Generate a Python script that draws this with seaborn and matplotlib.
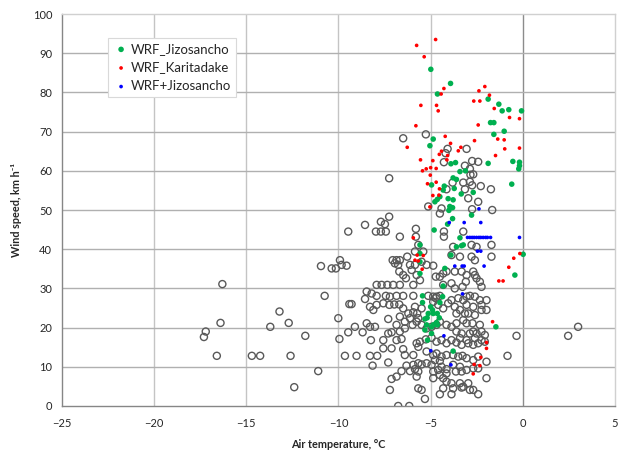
import numpy as np
import pandas as pd
import seaborn as sns
import matplotlib.pyplot as plt

gray_temp = [
    -16.3, -16.4, -17.2, -17.3, -16.6, -14.7, -14.25, -13.7, -13.2, -12.7, -12.6, -12.4, -11.8, -11.1, -10.95, -10.75,
    -6.49, -5.26, -4.08, -4.19, -3.05, -4.28, -2.75, -2.42, -3.14, -2.87, -2.69, -2.84, -3.81, -3.23, -2.87, -2.75,
    -2.28, -3.14, -4.14, -1.73, -2.96, -2.42, -7.25, -4.41, -5.13, -4.50, -2.75, -1.66, -7.25, -7.70, -8.56, -7.48,
    -9.47, -7.97, -7.70, -7.43, -5.80, -6.67, -5.80, -4.28, -4.28, -3.23,
    -5.67, -5.85, -5.40, -3.78, -2.78, -2.51, -1.70, -1.70, -2.78, -2.60, -3.87, -3.41,
    -7.06, -6.85, -6.67, -6.27, -6.12, -5.85, -5.49, -4.86, -5.22, -9.92, -9.83, -9.56, -10.37, -10.14, -6.76, -6.94,
    -6.70, -6.49, -6.34, -6.03, -5.76, -5.58, -4.72, -4.50, -4.32, -4.14, -3.69, -3.32, -3.05, -2.69, -2.60, -2.51,
    -2.33, -2.24, -3.09, -3.27, -3.87, -3.69, -4.32, -7.93, -7.66, -7.35, -7.03, -6.67, -5.94,
    -8.47, -8.20, -7.93, -7.43, -7.21, -6.85, -6.49, -5.94, -5.13, -4.86, -4.68, -4.50,
    -9.41, -9.29, -8.56, -8.29, -8.11, -7.93, -7.57, -7.24, -6.97, -6.70, -6.49, -6.21, -5.94, -5.73, -5.49, -5.85,
    -4.86, -4.72, -4.59, -4.32, -4.05, -3.87, -3.50, -3.23, -3.05, -2.87, -2.60, -2.33, -1.97, -2.24, -2.69, -3.05,
    -3.69, -3.41, -3.14, -2.96, -2.60, -2.24, -1.97, -3.60, -5.67, -6.12, -10.01, -7.30, -6.67, -6.40, -6.85,
    -9.11, -9.47, -8.69, -8.47, -8.29, -8.02, -7.30, -7.12, -6.67, -6.40, -5.98, -5.76, -5.49, -5.22, -4.95, -4.68,
    -4.50, -4.14, -3.87, -3.60, -3.23, -3.05, -2.73, -2.69, -2.33, -2.24, -3.60, -3.32, -2.87, -2.51, -2.06, -3.41,
    -3.05, -2.60, -2.24, -2.06, -0.34, 2.46, 3.00,
    -9.95, -8.24, -7.57, -6.85, -6.58, -5.76, -5.58, -5.26, -4.95, -4.68, -4.41, -4.14, -3.87, -3.60, -3.32, -2.96,
    -2.69, -2.42,
    -9.65, -9.02, -8.29, -7.90, -8.15, -7.30, -7.57, -7.12, -6.49, -6.40, -5.94, -5.67, -5.22, -4.86, -4.68, -4.41,
    -4.14, -3.78, -3.50, -3.27, -3.05, -2.69, -2.42, -1.97, -0.83, -4.77, -4.50, -6.31, -5.94, -5.67, -5.49, -5.22,
    -4.95, -4.41, -4.14, -3.78, -3.41, -3.05, -2.69, -2.42,
    -6.58, -6.12, -5.85, -5.67, -4.86, -4.59, -4.50, -4.14, -3.63, -3.32,
    -7.12, -6.85, -5.76, -4.86, -4.32, -4.14, -3.87, -3.41, -3.23, -2.96, -1.97, -7.21, -5.67, -5.49, -4.32, -3.78,
    -3.32, -2.87, -2.69, -5.31, -4.50, -3.87, -2.42, -6.76, -6.16,
]
gray_wind = [
    31.1, 21.2, 19.0, 17.6, 12.8, 12.8, 12.8, 20.2, 24.1, 21.2, 12.8, 4.8, 17.9, 8.9, 35.7, 28.1,
    68.3, 69.3, 65.6, 64.5, 65.6, 62.2, 62.5, 62.3, 61.3, 60.5, 59.1, 59.0, 57.0, 57.0, 57.2, 56.3,
    56.1, 55.3, 55.3, 55.3, 53.0, 52.1, 58.1, 50.4, 50.9, 49.1, 50.2, 50.0, 48.3, 47.0, 46.2, 46.4,
    44.5, 44.5, 44.5, 44.5, 45.2, 43.2, 43.2, 44.5, 43.2, 44.5,
    41.1, 39.4, 39.4, 40.6, 41.1, 40.6, 41.1, 38.1, 38.1, 37.2, 38.5, 38.1,
    37.2, 37.2, 37.2, 38.1, 36.0, 36.0, 36.8, 35.8, 36.0, 37.2, 36.0, 35.8, 35.1, 35.1, 36.0, 36.4,
    34.3, 33.4, 32.6, 34.7, 33.4, 32.1, 33.0, 33.0, 33.8, 34.3, 34.3, 34.3, 33.4, 34.3, 33.4, 32.6,
    31.7, 30.4, 31.7, 30.4, 31.3, 30.0, 30.9, 30.9, 30.9, 30.9, 30.9, 30.9, 30.9,
    29.2, 28.7, 28.1, 28.1, 27.9, 28.1, 28.1, 28.1, 28.1, 27.9, 27.9, 28.1,
    26.0, 26.0, 27.3, 25.3, 24.5, 25.8, 26.2, 25.8, 25.9, 25.9, 24.9, 23.6, 23.9, 23.6, 24.9, 25.3,
    26.6, 27.5, 25.8, 24.9, 26.2, 27.0, 27.5, 27.0, 27.9, 28.1, 27.9, 27.0, 27.0, 25.8, 25.3, 25.8,
    25.3, 24.5, 23.6, 23.6, 23.2, 24.5, 24.5, 23.6, 22.4, 22.4, 22.4, 22.2, 22.8, 21.5, 20.7,
    20.2, 18.8, 18.8, 21.1, 20.2, 20.2, 18.5, 18.8, 19.0, 19.8, 20.7, 21.5, 20.7, 19.8, 20.2, 20.7,
    21.5, 20.7, 20.2, 21.1, 21.9, 21.1, 21.1, 19.0, 20.7, 19.0, 19.0, 18.5, 18.5, 18.5, 18.1, 17.3,
    16.8, 17.3, 16.8, 16.4, 17.9, 17.9, 20.2,
    17.1, 16.8, 16.8, 16.8, 17.1, 16.0, 16.4, 17.0, 17.4, 16.4, 16.8, 16.0, 16.8, 16.2, 15.6, 16.0,
    15.6, 16.0,
    12.8, 12.8, 12.8, 12.8, 10.3, 11.1, 14.7, 14.7, 14.5, 13.0, 13.0, 15.1, 13.9, 13.0, 13.4, 12.6,
    13.0, 13.0, 12.6, 12.8, 12.2, 11.7, 12.6, 11.3, 12.8, 11.7, 11.5, 10.3, 10.5, 10.9, 10.6, 10.9,
    10.5, 10.0, 9.4, 10.5, 10.0, 9.2, 9.6, 9.6,
    8.9, 8.9, 9.4, 8.8, 8.8, 9.2, 7.9, 8.3, 8.8, 8.8,
    6.9, 7.5, 7.5, 7.1, 7.1, 6.2, 5.8, 5.8, 4.9, 5.8, 7.1, 4.1, 4.5, 4.1, 4.5, 4.5,
    4.7, 4.1, 4.1, 1.8, 3.0, 3.0, 3.0, 0.0, 0.0,
]

# WRF_Jizosancho (green)
jizo_temp = [
    -4.99, -3.92, -4.63, -1.88, -1.30, -0.76, -1.12, -0.07, -1.75, -1.57, -1.01, -1.57, -4.86, -5.04,
    -3.90, -3.65, -1.88, -0.54, -0.18, -0.18, -0.22, -3.11, -3.41, -3.78, -3.60, -4.95, -4.26, -3.72,
    -4.32, -2.69, -3.34, -0.60, -4.50, -4.64, -4.77, -4.05, -3.78, -3.96, -3.81, -4.01, -2.78, -3.81,
    -4.08, -4.81, -3.41, -3.60, -3.32, -3.23, -5.58, -3.90, -4.23, 0.02, -0.43, -4.32, -5.58, -5.58,
    -5.58, -5.44, -5.44, -4.35, -4.50, -5.00, -4.90, -4.86, -5.13, -5.31, -5.19, -4.64, -4.53, -4.68,
    -4.86, -4.95, -5.22, -5.31, -4.95, -4.64, -5.17, -1.46, -3.78,
]
jizo_wind = [
    85.9, 82.3, 79.6, 78.3, 77.0, 75.6, 75.3, 75.3, 72.3, 72.3, 70.1, 69.3, 68.1, 66.4,
    61.8, 62.1, 61.9, 62.4, 62.2, 61.3, 60.5, 60.0, 59.8, 58.2, 57.8, 56.4, 56.1, 55.5,
    55.1, 54.5, 54.1, 56.6, 53.4, 52.7, 52.1, 52.9, 52.6, 50.9, 50.6, 49.9, 48.7, 47.8,
    46.4, 44.9, 42.9, 40.6, 40.9, 41.1, 41.1, 38.5, 35.1, 38.7, 33.4, 30.6, 38.9, 36.8,
    33.8, 28.1, 26.4, 27.9, 26.4, 25.3, 24.5, 23.6, 23.6, 22.2, 22.5, 23.6, 22.5, 21.3,
    20.7, 20.2, 20.7, 19.4, 18.5, 20.7, 16.8, 20.2, 14.0,
]

# WRF_Karitadake (red)
kari_temp = [
    -5.76, -6.27, -4.21, -3.92, -3.36, -3.50, -4.41, -4.53, -4.08, -4.12, -5.55, -4.88, -5.24, -5.00,
    -4.70, -5.44, -5.02, -4.70, -5.17, -4.52, -4.88, -4.55, -5.04, -1.48, -0.98, -1.36, -1.01, -0.18,
    -2.62, -2.42, -0.72, -0.18, -1.55, -2.33, -2.66, -1.81, -2.38, -2.06, -5.53, -4.68, -4.59, -4.28,
    -4.43, -5.35, -4.73, -5.80,
    -5.94, -5.73, -5.85, -5.67, -5.40, -5.46, -0.16, -0.49, -0.76, -1.07, -1.30, -1.64, -1.97, -1.97,
    -2.28, -2.64, -2.33, -2.69,
]
kari_wind = [
    92.0, 66.0, 68.8, 67.0, 66.0, 65.1, 65.0, 64.2, 63.9, 62.8, 62.8, 62.6, 60.5, 60.8,
    60.6, 60.0, 58.9, 57.1, 56.7, 55.4, 53.7, 53.8, 50.8, 63.9, 65.6, 68.1, 67.9, 65.8,
    67.7, 71.7, 73.6, 73.3, 75.9, 77.8, 77.8, 79.3, 80.4, 81.5, 76.7, 76.7, 75.3, 81.0,
    79.6, 89.1, 93.5, 71.5,
    42.9, 38.5, 37.2, 37.0, 38.4, 34.9, 38.9, 37.7, 35.4, 31.9, 31.9, 21.5, 16.2, 14.7,
    12.4, 10.6, 10.3, 8.2,
]

# WRF+Jizosancho (blue)
plus_temp = [
    -3.00, -2.87, -2.75, -2.64, -2.51, -2.38, -2.28, -2.15, -2.02, -1.92, -1.75, -0.18,
    -2.46, -2.28, -3.69, -3.29, -3.18, -2.10, -3.27, -4.28, -4.99, -3.90, -2.38, -3.99, -3.18, -2.28,
]
plus_wind = [
    43.0, 43.0, 43.0, 43.0, 43.0, 43.0, 43.0, 43.0, 43.0, 43.0, 43.0, 43.0,
    39.5, 39.5, 35.7, 35.7, 35.7, 35.7, 28.6, 17.9, 14.1, 10.5, 50.3, 46.8, 46.8, 46.8,
]

obs = pd.DataFrame({"temp": gray_temp, "wind": gray_wind})
jizo = pd.DataFrame({"temp": jizo_temp, "wind": jizo_wind})
kari = pd.DataFrame({"temp": kari_temp, "wind": kari_wind})
plus = pd.DataFrame({"temp": plus_temp, "wind": plus_wind})

sns.set_style("white")
plt.rcParams["font.family"] = ["Lato", "DejaVu Sans"]

fig = plt.figure(figsize=(6.23, 4.5), dpi=100)
ax = fig.add_axes([0.0995, 0.0978, 0.8876, 0.871])

# grid first so the markers sit on top
for v in range(-20, 5, 5):
    ax.axvline(v, color="#8c8c8c" if v == 0 else "#c4c4c4", lw=1.0, zorder=0)
for h in range(10, 100, 10):
    ax.axhline(h, color="#b0b0b0", lw=1.0, zorder=0)

sns.scatterplot(data=obs, x="temp", y="wind", ax=ax, marker="o", s=26,
                facecolor="none", edgecolor="#595959", linewidth=1.0, legend=False, zorder=2)
sns.scatterplot(data=jizo, x="temp", y="wind", ax=ax, color="#00b050", s=16,
                edgecolor="none", label="WRF_Jizosancho", zorder=3)
sns.scatterplot(data=kari, x="temp", y="wind", ax=ax, color="#ff0000", s=7,
                edgecolor="none", label="WRF_Karitadake", zorder=4)
sns.scatterplot(data=plus, x="temp", y="wind", ax=ax, color="#0000ff", s=7,
                edgecolor="none", label="WRF+Jizosancho", zorder=5)

ax.set_xlim(-25, 5)
ax.set_ylim(0, 100)
ax.set_xticks(range(-25, 6, 5))
ax.set_yticks(range(0, 101, 10))
ax.tick_params(axis="both", labelsize=8, colors="#262626", length=3, width=0.8,
               direction="out")
ax.tick_params(axis="x", pad=6, color="#868686")
ax.tick_params(axis="y", pad=4, color="#868686")

for side in ["left", "bottom"]:
    ax.spines[side].set_color("#868686")
    ax.spines[side].set_linewidth(1.0)
for side in ["top", "right"]:
    ax.spines[side].set_color("#d0d0d0")
    ax.spines[side].set_linewidth(1.0)

ax.set_xlabel("Air temperature, °C", fontsize=7.8, fontweight="bold", labelpad=7)
ax.set_ylabel("Wind speed, km h⁻¹", fontsize=7.8, fontweight="bold", labelpad=8)

leg = ax.legend(loc="upper left", bbox_to_anchor=(0.083, 0.94), fontsize=9.5,
                frameon=True, fancybox=False, framealpha=1, edgecolor="#d9d9d9",
                labelspacing=0.5, handletextpad=0.1, handlelength=1.2,
                borderpad=0.4, borderaxespad=0, markerscale=1.0)
leg.get_frame().set_linewidth(0.8)

fig.savefig("out.png", dpi=100)
